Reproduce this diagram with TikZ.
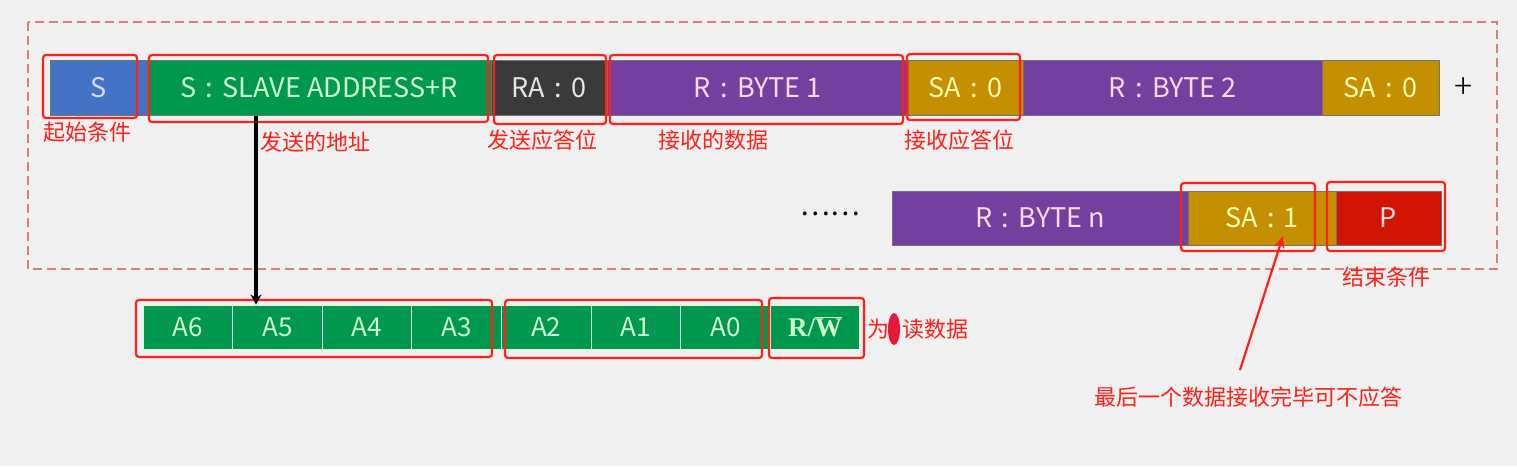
\documentclass[tikz,border=0pt]{standalone}
\usepackage{fontspec}
\setmainfont{Noto Sans CJK SC}
\newfontfamily\rwfont{Liberation Serif}
\usetikzlibrary{arrows.meta}
\definecolor{bg}{HTML}{F0F0F0}
\definecolor{cblue}{HTML}{4472C4}
\definecolor{cgreen}{HTML}{00984E}
\definecolor{cdark}{HTML}{3A3A3A}
\definecolor{cpurple}{HTML}{7340A0}
\definecolor{cgold}{HTML}{C48F00}
\definecolor{cred}{HTML}{D01505}
\definecolor{ann}{HTML}{FF2018}
\definecolor{framecol}{HTML}{D88080}
\definecolor{blob}{HTML}{E81838}
\newcommand\cln{\hspace{0.35em}:\hspace{0.35em}}
\tikzset{
  seg/.style={draw=black!55, line width=0.8pt, minimum height=55pt, inner sep=0pt,
    font=\fontsize{27}{30}\selectfont},
  cell/.style={draw=green!15!white, line width=0.8pt, fill=cgreen, text=green!20!white,
    minimum height=44pt, minimum width=89.6pt, inner sep=0pt, font=\fontsize{26}{30}\selectfont},
  redbox/.style={draw=ann, line width=2.2pt, rounded corners=3pt},
  lbl/.style={text=ann, font=\fontsize{22}{24}\selectfont, inner sep=0pt},
}
\begin{document}
\begin{tikzpicture}[x=1pt,y=-1pt]
\useasboundingbox[fill=bg] (0,0) rectangle (1517,466);
% outer dashed frame
\draw[framecol, line width=1.2pt, dash pattern=on 9pt off 5pt] (28,22) rectangle (1497,269);
% row 1
\node[seg, fill=cblue, text=blue!15!white, minimum width=97pt] (s) at (98.5,88) {S};
\node[seg, fill=cgreen, text=green!20!white, minimum width=344pt] (addr) at (319,88) {S\cln SLAVE ADDRESS+R};
\node[seg, fill=cdark, text=black!10, minimum width=116pt] (ra) at (549,88) {RA\cln 0};
\node[seg, fill=cpurple, text=magenta!15!white, minimum width=301pt] (b1) at (757.5,88) {R\cln BYTE 1};
\node[seg, fill=cgold, text=yellow!30!white, minimum width=115pt] (sa0) at (965.5,88) {SA\cln 0};
\node[seg, fill=cpurple, text=magenta!15!white, minimum width=299pt] (b2) at (1172.5,88) {R\cln BYTE 2};
\node[seg, fill=cgold, text=yellow!30!white, minimum width=117pt] (sa0b) at (1380.5,88) {SA\cln 0};
\node[font=\fontsize{34}{34}\selectfont\fontspec{Noto Sans CJK SC Light}, inner sep=0pt] (plus) at (1464,88) {+};
% row 2
\node[font=\fontsize{28}{30}\selectfont, inner sep=0pt] (dots) at (830,214) {……};
\node[seg, fill=cpurple, text=magenta!15!white, minimum width=296pt, minimum height=54pt] (bn) at (1040,218) {R\cln BYTE n};
\node[seg, fill=cgold, text=yellow!30!white, minimum width=148pt, minimum height=54pt] (sa1) at (1262,218) {SA\cln 1};
\node[seg, fill=cred, text=red!15!white, minimum width=105pt, minimum height=54pt] (p) at (1388.5,218) {P};
% row 3 address bits
\node[cell] (a6) at (187.8,327) {A6};
\node[cell] (a5) at (277.4,327) {A5};
\node[cell] (a4) at (367.0,327) {A4};
\node[cell] (a3) at (456.6,327) {A3};
\node[cell] (a2) at (546.2,327) {A2};
\node[cell] (a1) at (635.8,327) {A1};
\node[cell] (a0) at (725.4,327) {A0};
\node[cell, font=\fontsize{27}{30}\selectfont\rwfont\bfseries] (rw) at (815.0,327) {R/$\overline{\hbox{\rwfont\bfseries W}}$};
% red annotation boxes
\draw[redbox] (43,55) rectangle (137,118);
\draw[redbox] (149,55) rectangle (488,122);
\draw[redbox] (494,55) rectangle (606,124);
\draw[redbox] (610,55) rectangle (903,124);
\draw[redbox] (907,54) rectangle (1020,120);
\draw[redbox] (1181,183) rectangle (1315,251);
\draw[redbox] (1327,182) rectangle (1445,251);
\draw[redbox] (136,300) rectangle (492,357);
\draw[redbox] (505,300) rectangle (762,358);
\draw[redbox] (769,298) rectangle (864,358);
% labels
\node[lbl, anchor=west] (l1) at (43,132) {起始条件};
\node[lbl, anchor=west] (l2) at (260,142) {发送的地址};
\node[lbl, anchor=west] (l3) at (487,140) {发送应答位};
\node[lbl, anchor=west] (l4) at (658,140) {接收的数据};
\node[lbl, anchor=west] (l5) at (904,140) {接收应答位};
\node[lbl, anchor=west] (l6) at (1342,277) {结束条件};
\node[lbl, anchor=west] (l7) at (867,329) {为};
\node[lbl, anchor=west] (l8) at (902,329) {读数据};
\fill[blob] (894,329) ellipse (6pt and 16pt);
\node[lbl] (l9) at (1248,397) {最后一个数据接收完毕可不应答};
% connectors
\coordinate (ablk) at (256,116);
\draw[line width=3.6pt, -{Stealth[length=10pt,width=11pt]}] (ablk) -- (ablk |- a5.north);
\coordinate (rfoot) at (1240,370);
\coordinate (rtip) at (1283,236);
\draw[ann, line width=2.2pt, -{Stealth[length=12pt,width=10pt]}] (rfoot) -- (rtip);
\end{tikzpicture}
\end{document}
